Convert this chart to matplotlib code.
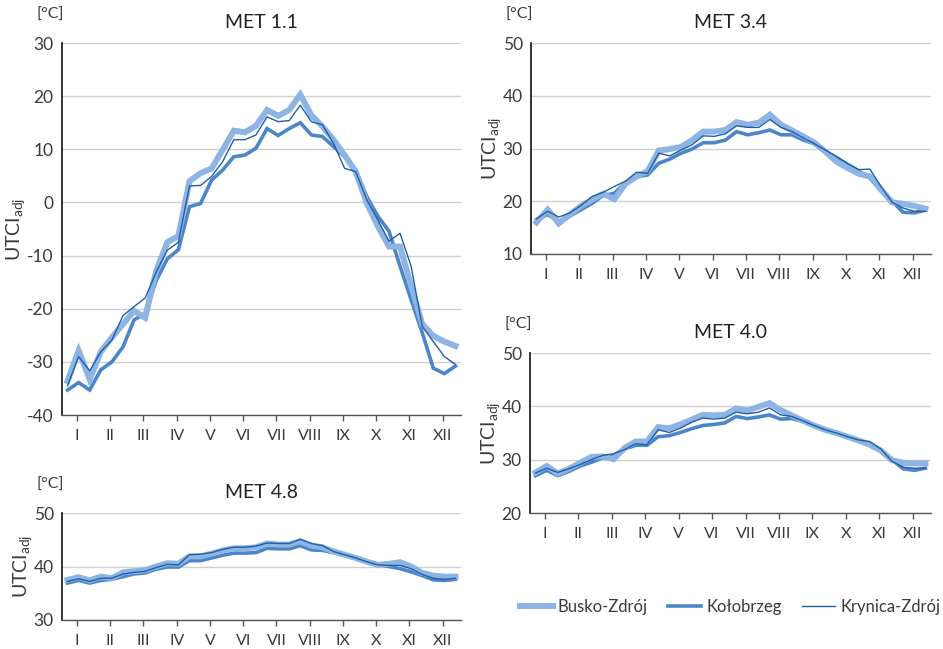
import numpy as np
import matplotlib
matplotlib.use("Agg")
from matplotlib import pyplot as plt

plt.rcParams['font.family'] = ['Lato', 'DejaVu Sans']
plt.rcParams['mathtext.fontset'] = 'custom'
plt.rcParams['mathtext.rm'] = 'Lato'
plt.rcParams['axes.unicode_minus'] = False

months = ['I', 'II', 'III', 'IV', 'V', 'VI', 'VII', 'VIII', 'IX', 'X', 'XI', 'XII']
stations = ['Busko-Zdrój', 'Kołobrzeg', 'Krynica-Zdrój']

# decade values (3 per month), UTCI adj
met11_busko = [-33.6, -27.9, -33.3, -28.1, -25.4, -22.9, -20.4, -21.7, -12.9, -7.5, -6.3, 4.0,
               5.5, 6.4, 9.9, 13.5, 13.2, 14.4, 17.4, 16.3, 17.4, 20.3, 16.4, 14.3,
               11.8, 8.9, 5.8, -0.1, -4.5, -8.3, -8.3, -15.7, -22.9, -25.1, -26.2, -27.0]
met11_kolobrzeg = [-35.3, -33.9, -35.3, -31.5, -30.0, -27.2, -22.1, -20.9, -14.7, -10.6, -8.9, -0.8,
                   -0.2, 4.2, 6.1, 8.6, 8.9, 10.2, 13.9, 12.6, 13.9, 15.0, 12.7, 12.4,
                   10.5, 8.6, 6.1, 1.1, -2.6, -5.4, -12.0, -18.3, -24.5, -31.2, -32.2, -30.8]
met11_krynica = [-34.5, -29.0, -31.7, -28.1, -25.9, -21.3, -19.6, -18.0, -13.1, -9.0, -7.5, 3.1,
                 3.2, 4.9, 7.7, 11.8, 11.8, 12.7, 16.1, 15.2, 15.4, 18.3, 15.2, 14.6,
                 11.1, 6.4, 5.8, 0.5, -3.3, -7.3, -5.8, -12.0, -23.3, -26.2, -29.0, -30.5]

met34_busko = [16.0, 18.4, 15.8, 17.5, 19.1, 20.3, 21.4, 20.4, 23.3, 24.7, 25.7, 29.6,
               29.9, 30.3, 31.6, 33.2, 33.2, 33.5, 35.0, 34.5, 34.9, 36.4, 34.5, 33.4,
               32.3, 31.1, 29.4, 27.5, 26.3, 25.2, 24.7, 22.2, 19.8, 19.5, 19.1, 18.6]
met34_kolobrzeg = [16.5, 17.5, 16.2, 17.2, 18.4, 19.6, 21.1, 21.5, 23.5, 24.6, 25.0, 27.2,
                   28.0, 29.1, 29.9, 31.1, 31.1, 31.6, 33.2, 32.6, 33.0, 33.5, 32.6, 32.6,
                   31.6, 30.9, 29.4, 28.2, 26.9, 25.7, 24.4, 22.2, 20.0, 17.9, 17.8, 18.3]
met34_krynica = [16.7, 18.1, 17.0, 17.8, 19.2, 20.9, 21.7, 22.8, 23.8, 25.5, 25.3, 29.1,
                 28.6, 29.7, 30.7, 32.4, 32.3, 32.8, 34.3, 34.0, 34.0, 35.5, 34.0, 33.2,
                 32.0, 30.9, 29.7, 28.5, 27.2, 26.0, 26.1, 22.8, 19.8, 18.7, 18.1, 18.1]

met40_busko = [27.6, 28.8, 27.4, 28.3, 29.4, 30.5, 30.6, 30.1, 32.2, 33.4, 33.4, 36.1,
               35.9, 36.6, 37.5, 38.4, 38.3, 38.4, 39.6, 39.2, 39.9, 40.6, 39.3, 38.3,
               37.3, 36.4, 35.6, 35.0, 34.3, 33.6, 32.8, 31.7, 29.9, 29.4, 29.3, 29.3]
met40_kolobrzeg = [27.0, 28.0, 27.0, 27.8, 28.8, 29.5, 30.3, 30.8, 32.0, 32.7, 32.7, 34.3,
                   34.5, 35.1, 35.8, 36.4, 36.6, 36.9, 38.1, 37.7, 38.0, 38.4, 37.6, 37.7,
                   37.2, 36.4, 35.6, 35.0, 34.3, 33.6, 32.9, 31.6, 30.0, 28.3, 28.0, 28.4]
met40_krynica = [27.5, 28.4, 27.6, 28.3, 29.1, 30.0, 30.8, 31.1, 31.9, 33.0, 32.8, 35.6,
                 35.1, 35.9, 37.0, 37.8, 37.6, 37.8, 38.9, 38.6, 38.9, 39.7, 38.4, 38.1,
                 37.3, 36.4, 35.6, 35.0, 34.3, 33.7, 33.4, 32.0, 29.7, 28.6, 28.4, 28.4]

met48_busko = [37.5, 38.0, 37.4, 38.1, 37.8, 38.9, 39.1, 39.3, 40.0, 40.6, 40.5, 41.9,
               41.9, 42.4, 43.0, 43.4, 43.4, 43.6, 44.3, 44.1, 44.1, 44.7, 43.9, 43.6,
               42.8, 42.2, 41.6, 40.9, 40.3, 40.5, 40.8, 40.0, 38.8, 38.3, 38.1, 38.1]
met48_kolobrzeg = [36.9, 37.4, 36.9, 37.4, 37.6, 38.1, 38.6, 38.8, 39.5, 39.9, 39.9, 41.1,
                   41.1, 41.6, 42.1, 42.5, 42.5, 42.6, 43.4, 43.3, 43.3, 43.9, 43.1, 43.0,
                   42.6, 42.1, 41.5, 40.9, 40.3, 40.0, 39.6, 39.0, 38.3, 37.5, 37.4, 37.6]
met48_krynica = [37.2, 37.7, 37.2, 37.8, 37.8, 38.6, 38.9, 39.1, 39.8, 40.4, 40.3, 42.2,
                 42.3, 42.6, 43.2, 43.6, 43.6, 43.8, 44.4, 44.3, 44.3, 45.1, 44.3, 43.9,
                 42.8, 42.2, 41.6, 40.9, 40.3, 40.2, 40.2, 39.6, 38.5, 37.8, 37.6, 37.8]

panels = [
    ('MET 1.1', (-40, 30), [62, 43, 461, 415], met11_busko, met11_kolobrzeg, met11_krynica),
    ('MET 3.4', (10, 50), [531, 43, 931, 254], met34_busko, met34_kolobrzeg, met34_krynica),
    ('MET 4.0', (20, 50), [530, 353, 931, 513], met40_busko, met40_kolobrzeg, met40_krynica),
    ('MET 4.8', (30, 50), [62, 513, 461, 620], met48_busko, met48_kolobrzeg, met48_krynica),
]

W, H = 943, 649
fig = plt.figure(figsize=(W / 100, H / 100), dpi=100)

c_busko = '#8db4e2'
c_kol = '#4a86c8'
c_kry = '#1f5ea8'
txt = '#3a3a3a'
x = np.arange(36)

for title, ylim, (l, t, r, b), busko, kol, kry in panels:
    ax = fig.add_axes([l / W, 1 - b / H, (r - l) / W, (b - t) / H])
    ax.plot(x, kol, color=c_kol, lw=2.6, zorder=3, solid_joinstyle='miter')
    ax.plot(x, busko, color=c_busko, lw=4.3, zorder=4, solid_joinstyle='miter')
    ax.plot(x, kry, color=c_kry, lw=1.0, zorder=5)
    ax.set_xlim(-0.5, 35.5)
    ax.set_ylim(*ylim)
    ax.set_yticks(np.arange(ylim[0], ylim[1] + 1, 10))
    ax.set_xticks(np.arange(12) * 3 + 0.85)
    ax.set_xticklabels(months)
    ax.yaxis.grid(True, color='#d0d0d0', lw=1.0)
    ax.set_axisbelow(True)
    for s in ['top', 'right']:
        ax.spines[s].set_visible(False)
    ax.spines['left'].set_color('#222222')
    ax.spines['left'].set_linewidth(1.3)
    ax.spines['bottom'].set_color('#555555')
    ax.spines['bottom'].set_linewidth(1.0)
    ax.tick_params(axis='y', length=0, labelsize=12.5, colors=txt, pad=6)
    ax.tick_params(axis='x', length=4, width=1.0, color='#555555', labelsize=11.5,
                   labelcolor=txt, pad=6)
    ax.set_title(title, fontsize=14, color='#222222', pad=11)
    ax.set_ylabel('UTCI$_{\\mathrm{adj}}$', fontsize=14, color=txt, labelpad=-1)
    fig.text((l - 12) / W, 1 - (t - 28) / H, '[°C]', fontsize=11.5, color=txt,
             ha='center', va='center')

handles = [
    plt.Line2D([], [], color=c_busko, lw=4.3),
    plt.Line2D([], [], color=c_kol, lw=2.6),
    plt.Line2D([], [], color=c_kry, lw=1.0),
]
leg = fig.legend(handles, stations, loc='center right', bbox_to_anchor=(940 / W, 1 - 607 / H),
                 ncol=3, frameon=False, fontsize=12, handlelength=2.0,
                 handletextpad=0.3, columnspacing=1.2, labelcolor=txt,
                 borderaxespad=0, borderpad=0)

fig.savefig('out.png', dpi=100)
